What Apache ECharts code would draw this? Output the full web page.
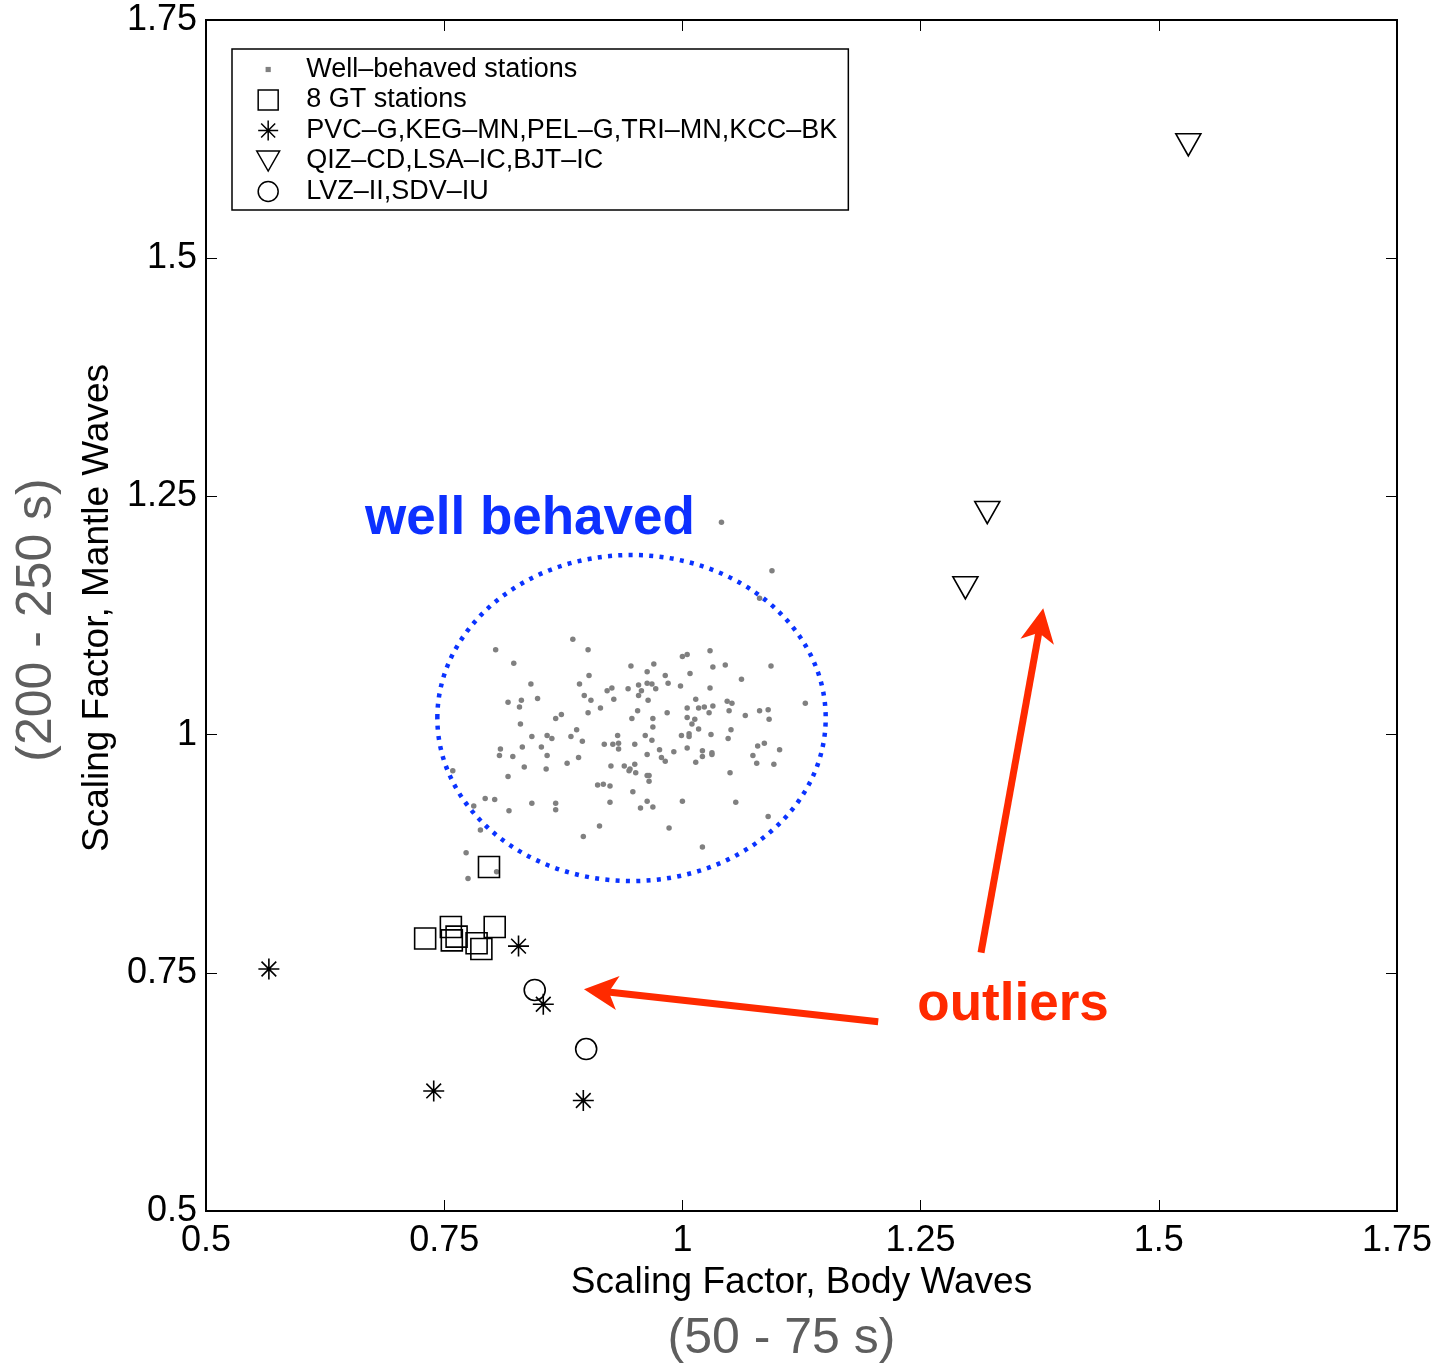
<!DOCTYPE html>
<html><head><meta charset="utf-8">
<script src="https://cdn.jsdelivr.net/npm/echarts@6/dist/echarts.min.js"></script>
<style>html,body{margin:0;padding:0;background:#fff}#c{width:1439px;height:1364px}</style>
</head><body><div id="c"></div>
<script>
// ---------- data ----------
const tickValues = [0.5, 0.75, 1, 1.25, 1.5, 1.75];
const seriesNames = ['Well\u2013behaved stations', '8 GT stations',
  'PVC\u2013G,KEG\u2013MN,PEL\u2013G,TRI\u2013MN,KCC\u2013BK',
  'QIZ\u2013CD,LSA\u2013IC,BJT\u2013IC', 'LVZ\u2013II,SDV\u2013IU'];
const wellBehaved = [[1.041,1.223],[1.094,1.172],[1.081,1.143],[0.885,1.100],[0.804,1.089],[0.901,1.089],[1.029,1.088],[0.823,1.075],[1.000,1.082],[1.005,1.084],[0.946,1.072],[0.970,1.074],[1.032,1.071],[1.045,1.073],[1.093,1.072],[0.963,1.066],[0.982,1.062],[1.008,1.064],[0.902,1.062],[1.062,1.058],[0.841,1.053],[0.892,1.053],[0.954,1.052],[0.963,1.054],[0.968,1.053],[0.985,1.054],[0.998,1.051],[0.926,1.049],[0.921,1.046],[0.943,1.048],[0.957,1.046],[0.972,1.048],[1.029,1.049],[0.897,1.041],[0.954,1.041],[0.848,1.038],[0.831,1.036],[0.817,1.034],[0.904,1.036],[0.928,1.037],[0.964,1.036],[1.014,1.037],[1.047,1.035],[1.052,1.033],[1.129,1.033],[0.829,1.029],[0.914,1.028],[1.005,1.028],[1.017,1.028],[1.023,1.029],[1.032,1.030],[0.953,1.025],[0.984,1.023],[0.901,1.023],[1.028,1.023],[1.049,1.025],[1.081,1.025],[1.090,1.026],[0.873,1.021],[0.867,1.017],[1.066,1.020],[0.947,1.017],[0.969,1.017],[1.005,1.018],[1.013,1.016],[1.091,1.016],[0.830,1.011],[1.010,1.011],[0.969,1.008],[0.889,1.005],[1.017,1.006],[1.051,1.005],[0.842,0.998],[0.858,0.999],[0.863,0.996],[0.883,0.998],[0.895,0.993],[0.932,0.999],[0.961,0.999],[0.968,0.994],[0.999,0.999],[1.007,0.998],[1.007,1.001],[1.030,1.000],[1.048,0.996],[0.918,0.990],[0.927,0.990],[0.933,0.991],[0.950,0.990],[1.086,0.991],[1.079,0.988],[0.809,0.985],[0.832,0.987],[0.852,0.987],[0.933,0.985],[0.976,0.984],[1.005,0.986],[0.991,0.982],[1.021,0.983],[1.031,0.981],[1.031,0.979],[1.102,0.984],[0.808,0.978],[0.822,0.977],[0.858,0.978],[0.891,0.976],[0.963,0.979],[0.978,0.976],[0.982,0.972],[1.021,0.977],[1.074,0.978],[0.879,0.970],[0.834,0.966],[0.857,0.964],[0.925,0.967],[0.939,0.967],[0.950,0.969],[0.945,0.964],[0.944,0.962],[0.951,0.960],[1.014,0.971],[1.078,0.970],[1.096,0.969],[0.759,0.962],[0.817,0.956],[0.963,0.957],[0.965,0.957],[0.965,0.951],[1.050,0.960],[0.911,0.947],[0.917,0.948],[0.924,0.946],[0.948,0.940],[0.793,0.933],[0.803,0.932],[0.842,0.928],[0.867,0.928],[0.924,0.929],[0.963,0.930],[1.000,0.930],[1.056,0.929],[0.781,0.925],[0.818,0.920],[0.867,0.921],[0.956,0.923],[0.969,0.924],[1.090,0.914],[0.913,0.904],[0.986,0.902],[0.788,0.900],[0.896,0.893],[1.021,0.882],[0.773,0.876],[0.775,0.849],[0.805,0.856]];
const gtStations = [[0.797,0.861],[0.730,0.786],[0.757,0.798],[0.758,0.784],[0.763,0.788],[0.784,0.781],[0.789,0.775],[0.803,0.798]];
const asteriskStations = [[0.566,0.754],[0.828,0.778],[0.854,0.717],[0.739,0.626],[0.896,0.616]];
const triangleStations = [[1.531,1.619],[1.320,1.233],[1.297,1.154]];
const circleStations = [[0.845,0.732],[0.899,0.670]];
// annotations (data coordinates)
const ellipseNote = {cx: 0.9466, cy: 1.0174, rx: 0.2038, ry: 0.1711};
const textNotes = [{text: 'well behaved', at: [0.840, 1.2254], color: '#0d30ff'},
                   {text: 'outliers', at: [1.347, 0.7162], color: '#ff2a00'}];
const arrowNotes = [{from: [1.2055, 0.6987], to: [0.8967, 0.7327]},
                    {from: [1.3134, 0.7711], to: [1.3787, 1.1326]}];

// ---------- chart ----------
const FONT = '"Liberation Sans", Arial, Helvetica, sans-serif';
const ASTER = 'path://M10,0L10,20M0,10L20,10M3,3L17,17M3,17L17,3';
const chart = echarts.init(document.getElementById('c'), null, {renderer: 'canvas'});
const valAxis = (pos, showLabel, extra) => Object.assign({
  type: 'value', position: pos, min: tickValues[0], max: tickValues[tickValues.length - 1],
  interval: 0.25,
  axisLine: {show: false},
  axisTick: {show: true, inside: true, length: 11, lineStyle: {color: '#000', width: 1}},
  splitLine: {show: false},
  axisLabel: {show: showLabel, color: '#000', fontSize: 36, fontFamily: FONT,
    formatter: v => String(+v.toFixed(2))}
}, extra || {});
const hollow = {color: 'rgba(0,0,0,0)', borderColor: '#000', borderWidth: 1.6, opacity: 1};
const option = {
  animation: false,
  backgroundColor: '#fff',
  textStyle: {fontFamily: FONT},
  grid: {left: 206, right: 42, top: 20, bottom: 153, show: true, borderColor: '#000',
         borderWidth: 2, containLabel: false, outerBoundsMode: 'none'},
  xAxis: [
    valAxis('bottom', true, {
      axisLabel: {show: true, color: '#000', fontSize: 36, fontFamily: FONT, margin: 12,
        formatter: v => String(+v.toFixed(2))},
      name: '{a|Scaling Factor, Body Waves}\n{b|(50 - 75 s)}',
      nameLocation: 'middle', nameGap: 52,
      nameTextStyle: {rich: {
        a: {fontSize: 37, lineHeight: 40, color: '#000', fontFamily: FONT},
        b: {fontSize: 50, lineHeight: 72, color: '#5e5e5e', fontFamily: FONT, padding: [0, 40, 0, 0]}
      }}
    }),
    valAxis('top', false)
  ],
  yAxis: [
    valAxis('left', true, {
      axisLabel: {show: true, color: '#000', fontSize: 36, fontFamily: FONT, margin: 9,
        formatter: v => String(+v.toFixed(2))},
      name: '{b|(200 - 250 s)}\n{a|Scaling Factor, Mantle Waves}',
      nameLocation: 'middle', nameGap: 88, nameRotate: 90,
      nameTextStyle: {rich: {
        a: {fontSize: 37, lineHeight: 40, color: '#000', fontFamily: FONT, padding: [0, 0, 0, 15]},
        b: {fontSize: 50, lineHeight: 80, color: '#5e5e5e', fontFamily: FONT, padding: [0, 9, 0, 0]}
      }}
    }),
    valAxis('right', false)
  ],
  legend: {
    orient: 'vertical', left: 232, top: 49, padding: [7, 11, 5, 24],
    itemWidth: 66, itemHeight: 20, itemGap: 3.5,
    borderColor: '#000', borderWidth: 1.5, backgroundColor: '#fff',
    textStyle: {fontSize: 27, lineHeight: 26, color: '#000', fontFamily: FONT},
    itemStyle: {borderWidth: 1.5},
    selectedMode: false,
    data: [
      {name: seriesNames[0], icon: 'path://M0,0M20,20M7.4,7.4L12.6,7.4L12.6,12.6L7.4,12.6Z'},
      {name: seriesNames[1], icon: 'path://M0,0L19,0L19,19L0,19Z'},
      {name: seriesNames[2], icon: ASTER},
      {name: seriesNames[3], icon: 'path://M0,0L24,0L12,21Z'},
      {name: seriesNames[4], icon: 'circle'}
    ]
  },
  series: [
    {name: seriesNames[0], type: 'scatter', data: wellBehaved, symbol: 'circle', symbolSize: 5.5,
     itemStyle: {color: '#808080', opacity: 1}, emphasis: {disabled: true}},
    {name: seriesNames[1], type: 'scatter', data: gtStations, symbol: 'rect', symbolSize: 21,
     itemStyle: hollow, emphasis: {disabled: true}},
    {name: seriesNames[2], type: 'scatter', data: asteriskStations, symbol: ASTER, symbolSize: 21,
     itemStyle: hollow, emphasis: {disabled: true}},
    {name: seriesNames[3], type: 'scatter', data: triangleStations, symbol: 'triangle',
     symbolRotate: 180, symbolSize: [25, 22], itemStyle: hollow, emphasis: {disabled: true}},
    {name: seriesNames[4], type: 'scatter', data: circleStations, symbol: 'circle', symbolSize: 21,
     itemStyle: hollow, emphasis: {disabled: true}}
  ]
};
chart.setOption(option);

// ---------- annotations via library coordinate conversion ----------
const px = p => chart.convertToPixel({xAxisIndex: 0, yAxisIndex: 0}, p);
const RED = '#ff2a00';
const els = [];
{
  const c = px([ellipseNote.cx, ellipseNote.cy]);
  const rx = px([ellipseNote.cx + ellipseNote.rx, ellipseNote.cy])[0] - c[0];
  const ry = c[1] - px([ellipseNote.cx, ellipseNote.cy + ellipseNote.ry])[1];
  els.push({type: 'ellipse', shape: {cx: c[0], cy: c[1], rx: rx, ry: ry}, z: 5,
    style: {fill: 'none', stroke: '#0a33ff', lineWidth: 4.5, lineDash: [4, 6.3], lineCap: 'butt'}});
}
textNotes.forEach(t => {
  const p = px(t.at);
  els.push({type: 'text', x: p[0], y: p[1], z: 6,
    style: {text: t.text, fill: t.color, font: 'bold 53px ' + FONT,
            align: 'center', verticalAlign: 'middle', textAlign: 'center', textVerticalAlign: 'middle'}});
});
arrowNotes.forEach(a => {
  const s = px(a.from), t = px(a.to);
  const dx = t[0] - s[0], dy = t[1] - s[1], L = Math.hypot(dx, dy);
  const ux = dx / L, uy = dy / L, nx = -uy, ny = ux;
  const headLen = 34, notch = 25, halfW = 17;
  const back = [t[0] - ux * headLen, t[1] - uy * headLen];
  const c1 = [back[0] + nx * halfW, back[1] + ny * halfW];
  const c2 = [back[0] - nx * halfW, back[1] - ny * halfW];
  const nt = [t[0] - ux * notch, t[1] - uy * notch];
  els.push({type: 'line', z: 6, shape: {x1: s[0], y1: s[1], x2: nt[0] + ux * 3, y2: nt[1] + uy * 3},
    style: {stroke: RED, lineWidth: 7}});
  els.push({type: 'polygon', z: 6, shape: {points: [t, c1, nt, c2]}, style: {fill: RED}});
});
chart.setOption({graphic: els});
</script>
</body></html>
